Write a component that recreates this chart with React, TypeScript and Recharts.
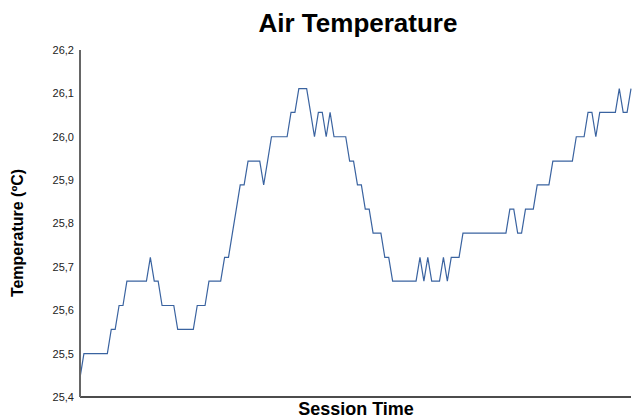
import React from "react";
import { LineChart, Line, XAxis, YAxis } from "recharts";

// air temperature readings (ºC), one per sample in the session
const temperature = [
  25.444,
  25.5, 25.5, 25.5, 25.5, 25.5, 25.5, 25.5,
  25.556, 25.556,
  25.611, 25.611,
  25.667, 25.667, 25.667, 25.667, 25.667, 25.667,
  25.722,
  25.667, 25.667,
  25.611, 25.611, 25.611, 25.611,
  25.556, 25.556, 25.556, 25.556, 25.556,
  25.611, 25.611, 25.611,
  25.667, 25.667, 25.667, 25.667,
  25.722, 25.722,
  25.778,
  25.833,
  25.889, 25.889,
  25.944, 25.944, 25.944, 25.944,
  25.889,
  25.944,
  26.0, 26.0, 26.0, 26.0, 26.0,
  26.056, 26.056,
  26.111, 26.111, 26.111,
  26.056,
  26.0,
  26.056, 26.056,
  26.0,
  26.056,
  26.0, 26.0, 26.0, 26.0,
  25.944, 25.944,
  25.889, 25.889,
  25.833, 25.833,
  25.778, 25.778, 25.778,
  25.722, 25.722,
  25.667, 25.667, 25.667, 25.667, 25.667, 25.667, 25.667,
  25.722,
  25.667,
  25.722,
  25.667, 25.667, 25.667,
  25.722,
  25.667,
  25.722, 25.722, 25.722,
  25.778, 25.778, 25.778, 25.778, 25.778, 25.778,
  25.778, 25.778, 25.778, 25.778, 25.778, 25.778,
  25.833, 25.833,
  25.778, 25.778,
  25.833, 25.833, 25.833,
  25.889, 25.889, 25.889, 25.889,
  25.944, 25.944, 25.944, 25.944, 25.944, 25.944,
  26.0, 26.0, 26.0,
  26.056, 26.056,
  26.0,
  26.056, 26.056, 26.056, 26.056, 26.056,
  26.111,
  26.056, 26.056,
  26.111,
];

// sample number within the session (x axis shows no tick labels)
const sessionTime = temperature.map((_, i) => i + 1);

const yTicks = [25.4, 25.5, 25.6, 25.7, 25.8, 25.9, 26.0, 26.1, 26.2];

const data = sessionTime.map((t, i) => ({ t, temp: temperature[i] }));

const font = "'Liberation Sans', Arial, sans-serif";

const App = () => {
  return (
    <div style={{ position: "absolute", left: 0, top: 0, width: 632, height: 419 }}>
      <LineChart
        width={632}
        height={419}
        data={data}
        margin={{ top: 50, right: 1, left: 0, bottom: 0 }}
      >
        <XAxis
          dataKey="t"
          tick={false}
          tickLine={false}
          height={22}
          axisLine={{ stroke: "#111", strokeWidth: 1.5 }}
        />
        <YAxis
          width={80}
          domain={[25.4, 26.2]}
          ticks={yTicks}
          interval={0}
          tickLine={false}
          tickSize={6}
          tickMargin={0}
          axisLine={{ stroke: "#666", strokeWidth: 2 }}
          tick={{ fill: "#222", fontSize: 11, fontFamily: font }}
          tickFormatter={(v: number) => v.toFixed(1).replace(".", ",")}
        />
        <Line
          type="linear"
          dataKey="temp"
          stroke="#3a63a0"
          strokeWidth={1.2}
          dot={false}
          isAnimationActive={false}
        />
      </LineChart>
      <svg
        width={632}
        height={419}
        style={{ position: "absolute", left: 0, top: 0, pointerEvents: "none" }}
      >
        <text x={358} y={32} textAnchor="middle" fontFamily={font} fontWeight="bold" fontSize={26} fill="#000">
          Air Temperature
        </text>
        <text
          transform="translate(23, 233) rotate(-90)"
          textAnchor="middle"
          fontFamily={font}
          fontWeight="bold"
          fontSize={16}
          fill="#000"
        >
          Temperature (ºC)
        </text>
        <text x={356} y={415} textAnchor="middle" fontFamily={font} fontWeight="bold" fontSize={18} fill="#000">
          Session Time
        </text>
      </svg>
    </div>
  );
};

export default App;
